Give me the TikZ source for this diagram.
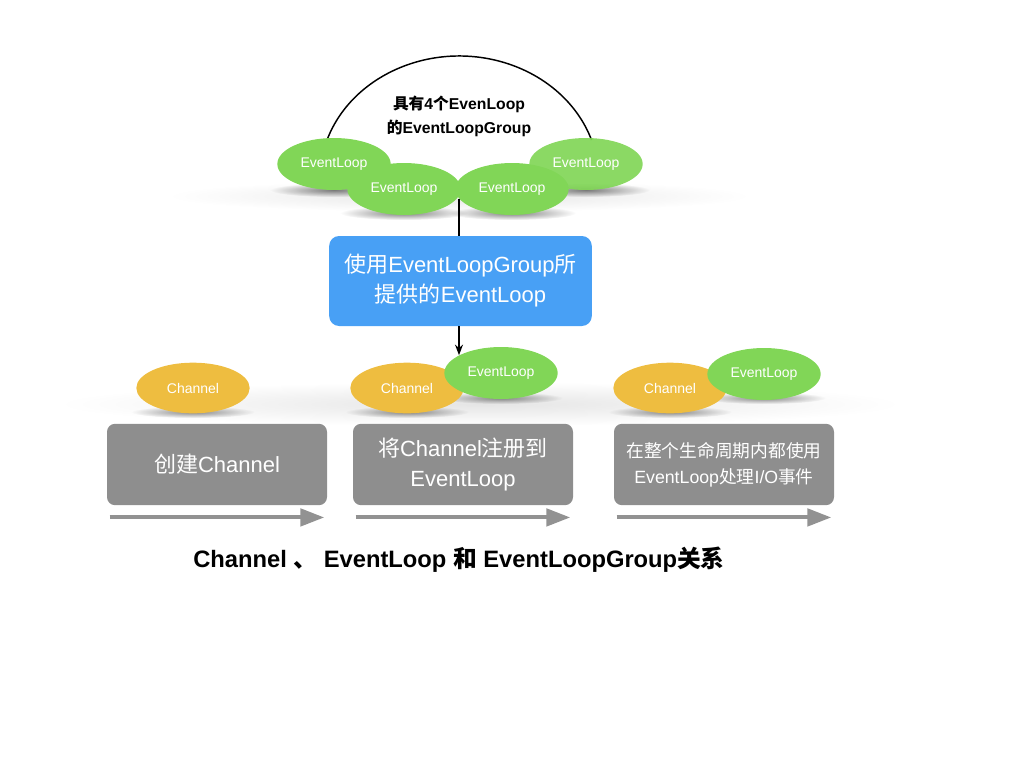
\documentclass[tikz,border=0pt]{standalone}
\usepackage{fontspec}
\setmainfont{Liberation Sans}
\newfontfamily\cjk{Noto Sans CJK SC}
\usetikzlibrary{shapes.geometric, arrows.meta, fadings}

\definecolor{loopgreen}{RGB}{129,214,87}
\definecolor{chanorange}{RGB}{238,189,64}
\definecolor{useblue}{RGB}{72,160,245}
\definecolor{boxgray}{RGB}{142,142,142}
\definecolor{flowgray}{RGB}{146,146,146}

\tikzfading[name=softout, inner color=transparent!0, outer color=transparent!100]

\begin{document}
\begin{tikzpicture}[
    x=0.75pt, y=-0.75pt, % one unit = one pixel of the reference
    loop/.style={ellipse, fill=loopgreen, minimum width=85pt, minimum height=39pt, inner sep=0pt, text=white, font=\fontsize{10.5}{12}\selectfont},
    chan/.style={ellipse, fill=chanorange, minimum width=85pt, minimum height=38pt, inner sep=0pt, text=white, font=\fontsize{10.5}{12}\selectfont},
    stepbox/.style={rectangle, rounded corners=6pt, fill=boxgray, minimum width=165pt, minimum height=61pt, inner sep=0pt, text=white, align=center},
    usebox/.style={rectangle, rounded corners=7.5pt, fill=useblue, minimum width=197pt, minimum height=67.5pt, inner sep=0pt, text=white, align=center, font=\fontsize{16.5}{22.5}\selectfont},
    flow/.style={line width=3pt, draw=flowgray, -{Triangle[length=18pt, width=13pt]}},
    shadow/.style={fill=black, path fading=softout},
    >=Stealth]

  \useasboundingbox (0,0) rectangle (1024,768);

  % Soft shadows under the ellipses
  \fill[shadow, opacity=0.10] (459,196) ellipse [x radius=290, y radius=16];
  \fill[shadow, opacity=0.10] (480,404) ellipse [x radius=420, y radius=22];
  \fill[shadow, opacity=0.5] (334,190) ellipse [x radius=64, y radius=7];
  \fill[shadow, opacity=0.5] (404,213) ellipse [x radius=64, y radius=7];
  \fill[shadow, opacity=0.5] (512,213) ellipse [x radius=64, y radius=7];
  \fill[shadow, opacity=0.5] (586,190) ellipse [x radius=64, y radius=7];
  \fill[shadow, opacity=0.45] (193,412) ellipse [x radius=62, y radius=6];
  \fill[shadow, opacity=0.45] (407,412) ellipse [x radius=62, y radius=6];
  \fill[shadow, opacity=0.45] (670,412) ellipse [x radius=62, y radius=6];
  \fill[shadow, opacity=0.45] (501,398) ellipse [x radius=62, y radius=6];
  \fill[shadow, opacity=0.45] (764,398) ellipse [x radius=62, y radius=6];

  % The group: an arc round four event loops
  \coordinate (arcL) at (327.4,139);
  \draw[line width=1.1pt] (arcL) arc[start angle=161, end angle=18.5, x radius=104.6pt, y radius=92.3pt];
  \node (grpname) [align=center, font=\fontsize{11.8}{18}\selectfont\bfseries] at (459,116)
    {{\cjk 具有}4{\cjk 个}EvenLoop\\{\cjk 的}EventLoopGroup};

  \node (gl1) [loop] at (334,164) {EventLoop};
  \node (gl2) [loop] at (404,189) {EventLoop};
  \node (gl3) [loop] at (512,189) {EventLoop};
  \node (gl4) [loop, fill opacity=0.92, text opacity=1] at (586,164) {EventLoop};

  % Step taken from the group
  \node (use) [usebox] at (460.5,281) {{\cjk 使用}EventLoopGroup{\cjk 所}\\{\cjk 提供的}EventLoop};
  \coordinate (grp) at (459,199);
  \draw[line width=1.1pt] (grp) -- (grp |- use.north);

  % Channels and their event loops
  \node (ch1) [chan] at (193,388) {Channel};
  \node (ch2) [chan] at (407,388) {Channel};
  \node (el2) [loop] at (501,373) {EventLoop};
  \node (ch3) [chan] at (670,388) {Channel};
  \node (el3) [loop] at (764,374) {EventLoop};

  \draw[->, line width=1.1pt] (use.south -| grp) -- (grp |- el2.157);

  % The three steps
  \node (create) [stepbox, font=\fontsize{16.5}{23}\selectfont] at (217,464.5) {{\cjk 创建}Channel};
  \node (register) [stepbox, font=\fontsize{16.5}{23}\selectfont] at (463,464.5) {{\cjk 将}Channel{\cjk 注册到}\\EventLoop};
  \node (handle) [stepbox, font=\fontsize{13.3}{19.5}\selectfont] at (724,464.5) {{\cjk 在整个生命周期内都使用}\\EventLoop{\cjk 处理}I/O{\cjk 事件}};

  % Flow arrows under the steps
  \draw[flow] ([shift={(3,12)}]create.south west) -- ([shift={(-3,12)}]create.south east);
  \draw[flow] ([shift={(3,12)}]register.south west) -- ([shift={(-3,12)}]register.south east);
  \draw[flow] ([shift={(3,12)}]handle.south west) -- ([shift={(-3,12)}]handle.south east);

  % Caption
  \node (caption) [font=\fontsize{17.8}{20}\selectfont\bfseries] at (459,560)
    {Channel {\cjk 、} EventLoop {\cjk 和} EventLoopGroup{\cjk 关系}};
\end{tikzpicture}
\end{document}
